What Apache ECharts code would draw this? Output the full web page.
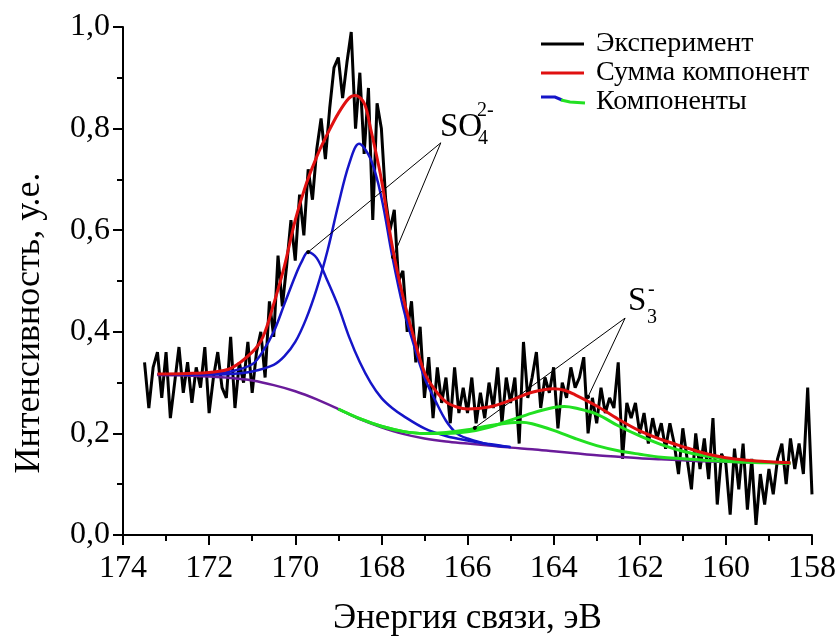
<!DOCTYPE html>
<html>
<head>
<meta charset="utf-8">
<script src="https://cdn.jsdelivr.net/npm/echarts@6.0.0/dist/echarts.min.js"></script>
<style>
  html, body { margin: 0; padding: 0; background: #fff; }
  #chart { width: 839px; height: 641px; }
</style>
</head>
<body>
<div id="chart"></div>
<script>
// энергия связи, эВ (шаг 0.1)
const expEnergy = [
  173.5,173.4,173.3,173.2,173.1,173.0,172.9,172.8,172.7,172.6,
  172.5,172.4,172.3,172.2,172.1,172.0,171.9,171.8,171.7,171.6,
  171.5,171.4,171.3,171.2,171.1,171.0,170.9,170.8,170.7,170.6,
  170.5,170.4,170.3,170.2,170.1,170.0,169.9,169.8,169.7,169.6,
  169.5,169.4,169.3,169.2,169.1,169.0,168.9,168.8,168.7,168.6,
  168.5,168.4,168.3,168.2,168.1,168.0,167.9,167.8,167.7,167.6,
  167.5,167.4,167.3,167.2,167.1,167.0,166.9,166.8,166.7,166.6,
  166.5,166.4,166.3,166.2,166.1,166.0,165.9,165.8,165.7,165.6,
  165.5,165.4,165.3,165.2,165.1,165.0,164.9,164.8,164.7,164.6,
  164.5,164.4,164.3,164.2,164.1,164.0,163.9,163.8,163.7,163.6,
  163.5,163.4,163.3,163.2,163.1,163.0,162.9,162.8,162.7,162.6,
  162.5,162.4,162.3,162.2,162.1,162.0,161.9,161.8,161.7,161.6,
  161.5,161.4,161.3,161.2,161.1,161.0,160.9,160.8,160.7,160.6,
  160.5,160.4,160.3,160.2,160.1,160.0,159.9,159.8,159.7,159.6,
  159.5,159.4,159.3,159.2,159.1,159.0,158.9,158.8,158.7,158.6,
  158.5,158.4,158.3,158.2,158.1,158.0
]
// эксперимент, у.е.
const expIntensity = [
  0.34,0.25,0.33,0.36,0.27,0.36,0.23,0.30,0.37,0.28,
  0.34,0.26,0.33,0.29,0.37,0.24,0.31,0.36,0.29,0.27,
  0.39,0.25,0.34,0.30,0.38,0.28,0.36,0.40,0.31,0.46,
  0.39,0.55,0.45,0.53,0.62,0.54,0.67,0.59,0.72,0.66,
  0.76,0.82,0.74,0.84,0.92,0.94,0.86,0.93,0.99,0.80,
  0.91,0.75,0.88,0.62,0.85,0.80,0.66,0.60,0.64,0.50,
  0.52,0.40,0.46,0.34,0.41,0.27,0.35,0.23,0.33,0.26,
  0.31,0.22,0.33,0.24,0.29,0.24,0.31,0.22,0.28,0.23,
  0.30,0.25,0.33,0.22,0.31,0.26,0.31,0.18,0.38,0.27,
  0.31,0.36,0.25,0.31,0.28,0.33,0.21,0.30,0.27,0.33,
  0.29,0.31,0.35,0.20,0.27,0.22,0.29,0.24,0.27,0.25,
  0.34,0.15,0.26,0.23,0.26,0.20,0.24,0.18,0.23,0.19,
  0.22,0.17,0.22,0.18,0.12,0.21,0.15,0.09,0.20,0.13,
  0.19,0.11,0.23,0.06,0.16,0.14,0.04,0.17,0.09,0.18,
  0.05,0.15,0.02,0.12,0.06,0.13,0.08,0.15,0.18,0.10,
  0.19,0.13,0.18,0.12,0.29,0.08
]

// фон
const background = [
  [173.2,0.315],[172.5,0.314],[172,0.312],[171.5,0.309],[171,0.304],[170.5,0.295],
  [170,0.283],[169.5,0.267],[169,0.248],[168.5,0.228],[168,0.212],[167.5,0.199],
  [167,0.190],[166.5,0.184],[166,0.180],[165.5,0.176],[165,0.172],[164.5,0.169],
  [164,0.165],[163.5,0.161],[163,0.157],[162.5,0.154],[162,0.151],[161.5,0.149],
  [161,0.147],[160.5,0.145],[160,0.144],[159.5,0.143],[159,0.142],[158.5,0.141]
]
// компоненты SO4(2-)
const so4a = [
  [173.2,0.316],[172.5,0.316],[172,0.317],[171.5,0.322],[171,0.336],[170.75,0.362],
  [170.5,0.40],[170.25,0.455],[170,0.51],[169.85,0.538],[169.7,0.557],[169.5,0.545],
  [169.25,0.50],[169,0.45],[168.75,0.39],[168.5,0.34],[168.25,0.30],[168,0.27],
  [167.75,0.25],[167.5,0.235],[167,0.21],[166.5,0.195],[166,0.186],[165.5,0.179],[165,0.173]
]
const so4b = [
  [173.2,0.316],[172,0.316],[171.5,0.317],[171,0.322],[170.5,0.335],[170.25,0.352],
  [170,0.38],[169.75,0.425],[169.5,0.485],[169.25,0.56],[169,0.65],[168.75,0.73],
  [168.52,0.77],[168.25,0.74],[168,0.665],[167.75,0.55],[167.5,0.45],[167.25,0.375],
  [167,0.31],[166.75,0.265],[166.5,0.225],[166.25,0.20],[166,0.19],[165.5,0.178],[165,0.173]
]
// компоненты S3(-)
const s3a = [
  [169,0.248],[168.5,0.229],[168,0.214],[167.5,0.204],[167,0.200],[166.5,0.202],
  [166,0.207],[165.5,0.215],[165,0.221],[164.75,0.222],[164.5,0.219],[164,0.206],
  [163.5,0.19],[163,0.176],[162.5,0.166],[162,0.159],[161.5,0.153],[161,0.150],
  [160.5,0.147],[160,0.145],[159.5,0.143],[159,0.142],[158.5,0.141]
]
const s3b = [
  [169,0.248],[168.5,0.229],[168,0.214],[167.5,0.204],[167,0.200],[166.5,0.200],
  [166,0.203],[165.5,0.212],[165,0.226],[164.5,0.240],[164,0.251],[163.75,0.253],
  [163.5,0.250],[163,0.238],[162.5,0.215],[162,0.195],[161.5,0.178],[161,0.165],
  [160.5,0.156],[160,0.150],[159.5,0.146],[159,0.143],[158.5,0.141]
]
// сумма компонент
const fitSum = [
  [173.2,0.317],[172.5,0.318],[172,0.32],[171.5,0.328],[171,0.36],[170.75,0.39],
  [170.5,0.455],[170.25,0.53],[170,0.62],[169.75,0.69],[169.5,0.745],[169.25,0.79],
  [169,0.83],[168.75,0.86],[168.6,0.865],[168.4,0.85],[168.25,0.80],[168,0.70],
  [167.75,0.57],[167.5,0.47],[167.25,0.39],[167,0.32],[166.75,0.285],[166.5,0.262],
  [166.25,0.252],[166,0.248],[165.5,0.252],[165,0.265],[164.5,0.281],[164,0.288],
  [163.75,0.285],[163.5,0.276],[163,0.254],[162.5,0.228],[162,0.205],[161.5,0.188],
  [161,0.174],[160.5,0.161],[160,0.152],[159.5,0.147],[159,0.144],[158.5,0.142]
]

// выноски: вершина и концы
const so4Pointers = [
  [[166.62,0.772],[169.70,0.557]],
  [[166.62,0.772],[167.73,0.547]]
]
const s3Pointers = [
  [[162.34,0.427],[165.83,0.211]],
  [[162.34,0.427],[163.20,0.272]]
]

const xTicks = { min: 158, max: 174, step: 2 }
const yTicks = { min: 0, max: 1, step: 0.2 }

const FONT = 'Liberation Serif'

const chart = echarts.init(document.getElementById('chart'))

const pointerLine = (pairs) => ({
  silent: true,
  symbol: ['none', 'circle'],
  symbolSize: 4,
  label: { show: false },
  lineStyle: { color: '#000', width: 1, type: 'solid' },
  emphasis: { disabled: true },
  data: pairs.map(p => [{ coord: p[0] }, { coord: p[1] }])
})

const curve = (data, color, width, z) => ({
  type: 'line',
  data,
  smooth: 0.35,
  showSymbol: false,
  z,
  lineStyle: { color, width },
  itemStyle: { color }
})

const option = {
  animation: false,
  backgroundColor: '#fff',
  grid: { left: 123, right: 27, top: 27, bottom: 106, containLabel: false, outerBoundsMode: 'none' },
  xAxis: {
    type: 'value',
    inverse: true,
    min: xTicks.min,
    max: xTicks.max,
    interval: xTicks.step,
    name: 'Энергия связи, эВ',
    nameLocation: 'middle',
    nameGap: 66,
    nameTextStyle: { fontFamily: FONT, fontSize: 35, color: '#000' },
    axisLine: { onZero: false, lineStyle: { color: '#000', width: 2 } },
    axisTick: { length: 10, lineStyle: { color: '#000', width: 2 } },
    minorTick: { show: true, splitNumber: 2, length: 6, lineStyle: { color: '#000', width: 2 } },
    splitLine: { show: false },
    axisLabel: { margin: 18, fontFamily: FONT, fontSize: 32, color: '#000' }
  },
  yAxis: {
    type: 'value',
    min: yTicks.min,
    max: yTicks.max,
    interval: yTicks.step,
    axisLine: { show: true, lineStyle: { color: '#000', width: 2 } },
    axisTick: { show: true, length: 10, lineStyle: { color: '#000', width: 2 } },
    minorTick: { show: true, splitNumber: 2, length: 6, lineStyle: { color: '#000', width: 2 } },
    splitLine: { show: false },
    axisLabel: {
      margin: 13,
      fontFamily: FONT,
      fontSize: 32,
      color: '#000',
      formatter: v => v.toFixed(1).replace('.', ',')
    }
  },
  series: [
    {
      name: 'Эксперимент',
      type: 'line',
      data: expEnergy.map((e, i) => [e, expIntensity[i]]),
      showSymbol: false,
      z: 1,
      lineStyle: { color: '#000', width: 3 },
      itemStyle: { color: '#000' }
    },
    curve(background, '#6a1b9a', 2.5, 2),
    curve(so4a, '#1515c8', 2.5, 3),
    curve(so4b, '#1515c8', 2.5, 3),
    Object.assign(curve(s3a, '#22e022', 3, 4), { markLine: pointerLine(s3Pointers) }),
    curve(s3b, '#22e022', 3, 4),
    Object.assign(curve(fitSum, '#e01010', 3, 5), { markLine: pointerLine(so4Pointers) })
  ],
  graphic: [
    // подпись оси Y
    {
      type: 'text', x: 30, y: 323, rotation: Math.PI / 2,
      style: { text: 'Интенсивность, у.е.', font: '36px ' + FONT, fill: '#000', align: 'center', verticalAlign: 'middle' }
    },
    // легенда
    { type: 'line', shape: { x1: 541, y1: 44, x2: 584, y2: 44 }, style: { stroke: '#000', lineWidth: 3 } },
    { type: 'line', shape: { x1: 541, y1: 73, x2: 584, y2: 73 }, style: { stroke: '#e01010', lineWidth: 3 } },
    { type: 'polyline', shape: { points: [[541, 97], [555, 97], [562, 100]] }, style: { stroke: '#1515c8', lineWidth: 3, fill: null } },
    { type: 'polyline', shape: { points: [[561, 100], [570, 102], [585, 103]] }, style: { stroke: '#22e022', lineWidth: 3, fill: null } },
    { type: 'text', x: 596, y: 44, style: { text: 'Эксперимент', font: '28px ' + FONT, fill: '#000', verticalAlign: 'middle' } },
    { type: 'text', x: 596, y: 73, style: { text: 'Сумма компонент', font: '28px ' + FONT, fill: '#000', verticalAlign: 'middle' } },
    { type: 'text', x: 596, y: 102, style: { text: 'Компоненты', font: '28px ' + FONT, fill: '#000', verticalAlign: 'middle' } },
    // подписи пиков
    { type: 'text', x: 440, y: 127, style: { text: 'SO', font: '33px ' + FONT, fill: '#000', verticalAlign: 'middle' } },
    { type: 'text', x: 478, y: 139, style: { text: '4', font: '20px ' + FONT, fill: '#000', verticalAlign: 'middle' } },
    { type: 'text', x: 477, y: 111, style: { text: '2-', font: '20px ' + FONT, fill: '#000', verticalAlign: 'middle' } },
    { type: 'text', x: 628, y: 301, style: { text: 'S', font: '33px ' + FONT, fill: '#000', verticalAlign: 'middle' } },
    { type: 'text', x: 647, y: 318, style: { text: '3', font: '20px ' + FONT, fill: '#000', verticalAlign: 'middle' } },
    { type: 'text', x: 648, y: 290, style: { text: '-', font: '20px ' + FONT, fill: '#000', verticalAlign: 'middle' } }
  ]
}

chart.setOption(option)
</script>
</body>
</html>
